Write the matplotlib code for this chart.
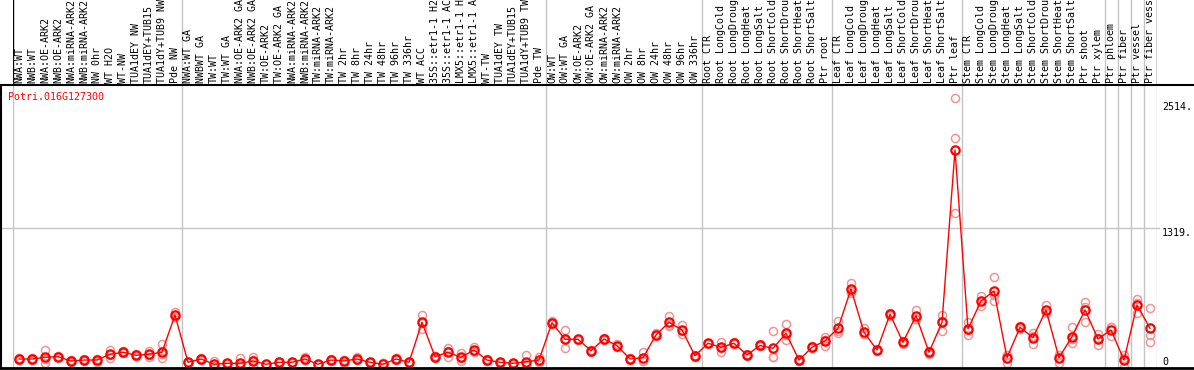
import matplotlib
matplotlib.use("Agg")
import matplotlib.pyplot as plt
import matplotlib.transforms as mtransforms
from matplotlib.lines import Line2D

W, H = 1194, 370

gene = "Potri.016G127300"

labels = [
    # NW
    "NWA:WT", "NWB:WT", "NWA:OE-ARK2", "NWB:OE-ARK2", "NWA:miRNA-ARK2", "NWB:miRNA-ARK2",
    "NW 0hr", "WT H2O", "WT-NW", "TUA1dEY NW", "TUA1dEY+TUB15", "TUA1dY+TUB9 NW", "Pde NW",
    # TW
    "NWA:WT GA", "NWBWT GA", "TW:WT", "TW:WT GA", "NWA:OE-ARK2 GA", "NWB:OE-ARK2 GA",
    "TW:OE-ARK2", "TW:OE-ARK2 GA", "NWA:miRNA-ARK2", "NWB:miRNA-ARK2", "TW:miRNA-ARK2",
    "TW:miRNA-ARK2", "TW 2hr", "TW 8hr", "TW 24hr", "TW 48hr", "TW 96hr", "TW 336hr",
    "WT ACC", "35S::etr1-1 H2", "35S::etr1-1 AC", "LMX5::etr1-1 H", "LMX5::etr1-1 A",
    "WT-TW", "TUA1dEY TW", "TUA1dEY+TUB15", "TUA1dY+TUB9 TW", "Pde TW",
    # OW
    "OW:WT", "OW:WT GA", "OW:OE-ARK2", "OW:OE-ARK2 GA", "OW:miRNA-ARK2", "OW:miRNA-ARK2",
    "OW 2hr", "OW 8hr", "OW 24hr", "OW 48hr", "OW 96hr", "OW 336hr",
    # root
    "Root CTR", "Root LongCold", "Root LongDroug", "Root LongHeat", "Root LongSalt",
    "Root ShortCold", "Root ShortDrou", "Root ShortHeat", "Root ShortSalt", "Ptr root",
    # leaf
    "Leaf CTR", "Leaf LongCold", "Leaf LongDroug", "Leaf LongHeat", "Leaf LongSalt",
    "Leaf ShortCold", "Leaf ShortDrou", "Leaf ShortHeat", "Leaf ShortSalt", "Ptr leaf",
    # stem
    "Stem CTR", "Stem LongCold", "Stem LongDroug", "Stem LongHeat", "Stem LongSalt",
    "Stem ShortCold", "Stem ShortDrou", "Stem ShortHeat", "Stem ShortSalt", "Ptr shoot",
    "Ptr xylem",
    "Ptr phloem", "Ptr fiber", "Ptr vessel", "Ptr fiber vess",
]

group_sizes = [13, 28, 12, 10, 10, 11, 1, 1, 1, 1]

means = [
    76, 76, 92, 98, 57, 66, 66, 121, 140, 111, 121, 140, 493,
    45, 76, 26, 35, 35, 57, 26, 45, 45, 76, 26, 66, 57, 76, 45, 26, 76, 45,
    424, 98, 140, 92, 161, 66, 45, 35, 50, 66,
    420, 263, 263, 155, 266, 202, 76, 88, 304, 424, 351, 107,
    225, 187, 225, 114, 204, 177, 320, 66, 187, 247,
    367, 740, 329, 161, 500, 234, 487, 140, 424, 2059,
    361, 626, 721, 88, 377, 278, 541, 88, 288, 541, 266,
    351, 66, 588, 367,
]

replicates = [
    [70, 85, 73], [62, 88, 78], [161, 38, 77], [92, 108, 94], [48, 66, 57],
    [55, 74, 69], [50, 78, 70], [161, 85, 117], [132, 150, 138], [104, 120, 109],
    [155, 98, 110], [218, 83, 119], [525, 477, 477],
    [38, 52, 45], [68, 84, 76], [57, 9, 12], [30, 40, 35], [83, 0, 22],
    [98, 9, 64], [20, 30, 28], [40, 52, 43], [38, 50, 47], [95, 62, 71],
    [22, 30, 26], [60, 72, 66], [35, 70, 66], [98, 62, 68], [40, 50, 45],
    [0, 40, 38], [70, 82, 76], [40, 50, 45], [493, 361, 418], [90, 104, 100],
    [177, 95, 148], [136, 57, 83], [193, 150, 140], [60, 72, 66], [40, 52, 43],
    [28, 42, 35], [114, 9, 27], [98, 50, 50],
    [437, 410, 413], [351, 177, 261], [255, 270, 264], [145, 165, 155],
    [275, 255, 268], [190, 215, 201], [65, 85, 78], [145, 60, 59],
    [295, 318, 299], [487, 399, 386], [399, 310, 344], [98, 115, 108],
    [218, 232, 225], [240, 145, 176], [215, 235, 225], [105, 122, 115],
    [195, 214, 203], [342, 92, 97], [405, 256, 299], [55, 76, 67],
    [180, 196, 185], [288, 199, 254],
    [437, 320, 344], [794, 720, 706], [367, 310, 310], [150, 172, 161],
    [485, 515, 500], [220, 248, 234], [541, 460, 460], [128, 152, 140],
    [493, 344, 435], [2550, 2170, 1459],
    [430, 304, 349], [674, 582, 622], [851, 626, 686], [41, 110, 113],
    [365, 390, 376], [320, 218, 296], [588, 520, 515], [41, 110, 113],
    [377, 225, 262], [620, 430, 573], [313, 209, 276],
    [382, 294, 377], [114, 0, 84], [645, 510, 609], [557, 304, 234],
]

y_ticks = [0, 1319, 2514]
y_tick_text = ["0", "1319.", "2514."]

MONO = "DejaVu Sans Mono"
GRAY = "#c4c4c4"
PINK = "#f29494"


def px_box(x0, y0, x1, y1):
    # pixel box (top-left origin) -> figure fraction rect
    return [x0 / W, 1 - y1 / H, (x1 - x0) / W, (y1 - y0) / H]


def fig_line(fig, xs, ys, color="black", lw=1.5):
    fig.add_artist(Line2D([x / W for x in xs], [1 - y / H for y in ys],
                          transform=fig.transFigure, color=color, lw=lw))


fig = plt.figure(figsize=(W / 100, H / 100), dpi=100)

n = len(labels)
head = fig.add_axes(px_box(12.5, 0, 1156.5, 85))
ax = fig.add_axes(px_box(12.5, 85, 1156.5, 368))

for a in (head, ax):
    a.set_xlim(-0.5, n - 0.5)
    a.set_xticks([])
    a.set_yticks([])
    a.patch.set_alpha(0)
    for s in a.spines.values():
        s.set_visible(False)

# 0 sits at pixel 367, 1319 at pixel 228
ax.set_ylim(-9.5, 2675)

# group separators
edges = [0]
for g in group_sizes:
    edges.append(edges[-1] + g)
for e in edges:
    ax.axvline(e - 0.5, color=GRAY, lw=1)
    head.axvline(e - 0.5, color="black" if e in (0, n) else GRAY, lw=1)

# header labels
tr = mtransforms.blended_transform_factory(head.transData, head.transAxes)
for i, lab in enumerate(labels):
    head.text(i, 2 / 85, lab, rotation=90, ha="center", va="bottom",
              transform=tr, family=MONO, fontsize=7.2, color="black")

ax.axhline(1319, xmin=-12.5 / 1144, xmax=(1159 - 12.5) / 1144,
           color=GRAY, lw=1, clip_on=False)

# replicates then mean
for i, reps in enumerate(replicates):
    ax.plot([i] * len(reps), reps, "o", mfc="none", mec=PINK, ms=5.8,
            mew=1.1, clip_on=False, zorder=3)
ax.plot(range(n), means, "-", color="red", lw=1, zorder=4, clip_on=False)
ax.plot(range(n), means, "o", mfc="none", mec="red", ms=6, mew=1.6,
        clip_on=False, zorder=5)

ytr = mtransforms.blended_transform_factory(ax.transAxes, ax.transData)
for v, t in zip(y_ticks, y_tick_text):
    ax.text((1162 - 12.5) / 1144, v, t, ha="left",
            va="bottom" if v == 0 else "top", transform=ytr,
            family=MONO, fontsize=7.2, color="black")

fig.text(8 / W, 1 - 97 / H, gene, color="red", ha="left", va="center",
         family=MONO, fontsize=7.2)

# frame lines
fig_line(fig, [0, W], [85, 85])
fig_line(fig, [0, W], [368, 368], lw=2)
fig_line(fig, [0.7, 0.7], [85, 368])

fig.savefig("out.png", dpi=100)
